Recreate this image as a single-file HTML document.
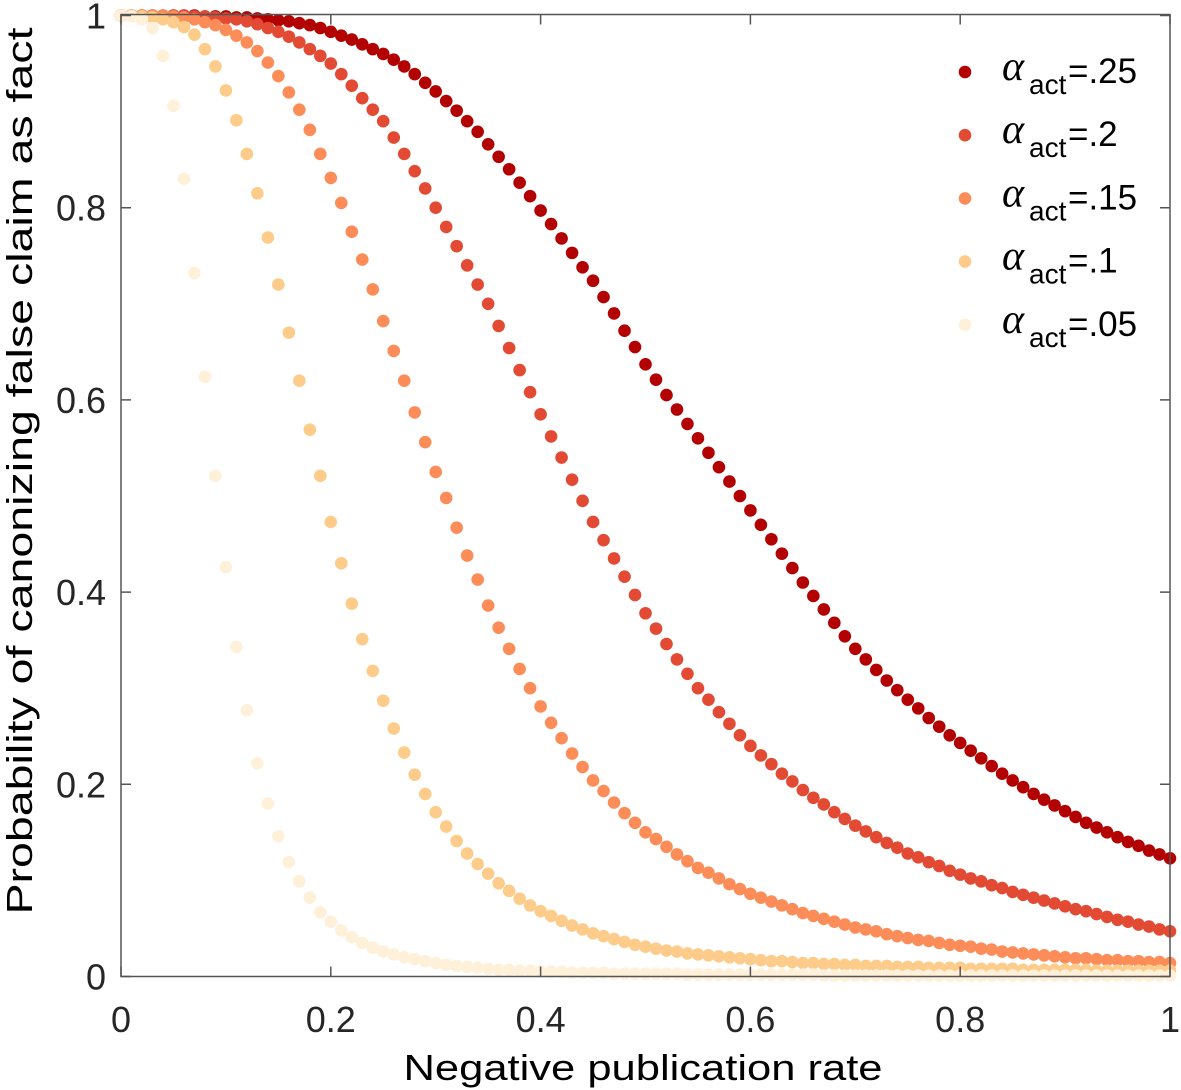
<!DOCTYPE html>
<html><head><meta charset="utf-8"><style>
html,body{margin:0;padding:0;background:#fff;}
svg{display:block;font-family:"Liberation Sans",Arial,sans-serif;}
</style></head><body>
<svg id="chart" width="1181" height="1090" viewBox="0 0 1181 1090" xmlns="http://www.w3.org/2000/svg">
<rect x="0" y="0" width="1181" height="1090" fill="#fff"/>
<g id="marks"></g>
<g id="axes"></g>
<text x="643" y="1080" text-anchor="middle" font-size="36" textLength="479" lengthAdjust="spacingAndGlyphs" fill="#000">Negative publication rate</text>
<text transform="translate(32,471) rotate(-90)" text-anchor="middle" font-size="36" textLength="887" lengthAdjust="spacingAndGlyphs" fill="#000">Probability of canonizing false claim as fact</text>
<g id="legend"></g>
</svg>
<script>
const xTicks = [0, 0.2, 0.4, 0.6, 0.8, 1];
const xTickLabels = ["0", "0.2", "0.4", "0.6", "0.8", "1"];
const yTicks = [0, 0.2, 0.4, 0.6, 0.8, 1];
const yTickLabels = ["0", "0.2", "0.4", "0.6", "0.8", "1"];
const seriesNames = ["=.25", "=.2", "=.15", "=.1", "=.05"];
const seriesColors = ["#b30000", "#e34a33", "#fc8d59", "#fdcc8a", "#fef0d9"];
const xStep = 0.01;
const s25 = [1,1,1,1,1,1,1,1,.999,.999,.999,
.998,.998,.997,.996,.995,.994,.992,.990,.987,.983,
.979,.975,.970,.965,.960,.954,.947,.939,.930,.921,
.911,.901,.890,.879,.866,.853,.840,.826,.812,.797,
.783,.768,.753,.738,.724,.707,.690,.672,.655,.637,
.621,.605,.590,.575,.560,.545,.530,.515,.500,.485,
.470,.455,.440,.425,.410,.396,.382,.368,.354,.341,
.330,.319,.308,.298,.288,.279,.269,.260,.251,.243,
.235,.227,.219,.211,.204,.197,.190,.184,.178,.172,
.166,.160,.155,.150,.145,.140,.136,.131,.127,.123];
const s20 = [1,1,1,1,1,1,1,.999,.999,.998,.997,
.996,.994,.991,.987,.983,.978,.972,.965,.958,.950,
.939,.927,.914,.902,.890,.873,.856,.838,.820,.800,
.780,.760,.740,.720,.700,.677,.654,.631,.608,.585,
.562,.540,.517,.495,.473,.454,.435,.416,.397,.378,
.362,.346,.330,.315,.300,.288,.275,.263,.251,.240,
.230,.221,.211,.203,.194,.186,.179,.171,.164,.157,
.151,.145,.139,.134,.128,.124,.119,.115,.110,.106,
.102,.099,.095,.092,.088,.085,.082,.079,.076,.073,
.070,.068,.065,.062,.059,.057,.054,.052,.049,.047];
const s15 = [1,1,1,1,1,.999,.998,.996,.993,.990,.985,
.979,.972,.963,.951,.937,.920,.902,.881,.856,.831,
.805,.775,.746,.715,.682,.651,.620,.587,.556,.525,
.498,.467,.438,.413,.386,.363,.341,.320,.300,.281,
.264,.248,.232,.218,.204,.193,.181,.170,.160,.150,
.143,.135,.127,.120,.113,.108,.102,.096,.091,.086,
.082,.078,.074,.070,.066,.063,.060,.057,.054,.051,
.049,.047,.044,.042,.040,.038,.037,.035,.033,.032,
.031,.029,.028,.026,.025,.024,.023,.022,.021,.020,
.019,.019,.018,.017,.017,.016,.016,.015,.015,.014];
const s10 = [1,1,.999,.998,.996,.993,.988,.980,.965,.947,.922,
.891,.856,.815,.769,.720,.670,.620,.569,.521,.473,
.430,.388,.351,.318,.287,.258,.233,.210,.190,.171,
.156,.141,.128,.117,.107,.097,.089,.081,.074,.068,
.063,.058,.053,.049,.045,.042,.039,.036,.033,.031,
.029,.027,.026,.024,.023,.022,.021,.020,.019,.018,
.017,.016,.016,.015,.014,.014,.013,.013,.012,.012,
.011,.011,.011,.010,.010,.010,.009,.009,.009,.009,
.008,.008,.008,.008,.008,.007,.007,.007,.007,.007,
.007,.007,.006,.006,.006,.006,.006,.006,.006,.006];
const s05 = [1,.999,.996,.987,.958,.906,.830,.732,.624,.521,.426,
.343,.277,.222,.180,.146,.119,.099,.082,.067,.057,
.048,.041,.035,.030,.026,.023,.020,.018,.016,.014,
.012,.011,.010,.009,.008,.007,.007,.006,.006,.005,
.005,.005,.004,.004,.004,.004,.003,.003,.003,.003,
.003,.003,.003,.002,.002,.002,.002,.002,.002,.002,
.002,.002,.002,.002,.002,.002,.001,.001,.001,.001,
.001,.001,.001,.001,.001,.001,.001,.001,.001,.001,
.001,.001,.001,.001,.001,.001,.001,.001,.001,.001,
.001,.001,.001,.001,.001,.001,.001,.001,.001,.001];
const seriesData = [s25, s20, s15, s10, s05];

const NS = "http://www.w3.org/2000/svg";
const L = 121, R = 1170, T = 15.5, B = 976.5;
function xScale(v){ return L + v * (R - L); }
function yScale(v){ return B - v * (B - T); }
function mk(tag, attrs, parent){
  const e = document.createElementNS(NS, tag);
  for (const k in attrs) e.setAttribute(k, attrs[k]);
  parent.appendChild(e);
  return e;
}
const marks = document.getElementById('marks');
seriesData.forEach((arr, si) => {
  const g = mk('g', {fill: seriesColors[si]}, marks);
  
  
  arr.forEach((v, i) => {
    const c = mk('circle', {cx: xScale(i * xStep), cy: yScale(v), r: 6.3}, g);
    
    
  });
});
const axes = document.getElementById('axes');
const frame = mk('rect', {x: L, y: T - 1, width: R - L, height: B - T + 1, fill: 'none', stroke: '#555', 'stroke-width': 1.5}, axes);


xTicks.forEach((t, i) => {
  const x = xScale(t);
  const tk = mk('path', {d: `M${x},${B}v-10M${x},${T-1}v10`, stroke: '#555', 'stroke-width': 1.5}, axes);
  
  
  const lb = mk('text', {x: x, y: 1032, 'text-anchor': 'middle', 'font-size': 36, fill: '#262626'}, axes);
  lb.textContent = xTickLabels[i];
  
  
});
yTicks.forEach((t, i) => {
  const y = yScale(t);
  const tk = mk('path', {d: `M${L},${y}h10M${R},${y}h-10`, stroke: '#555', 'stroke-width': 1.5}, axes);
  
  
  const lb = mk('text', {x: 106, y: y + 13, 'text-anchor': 'end', 'font-size': 36, fill: '#262626'}, axes);
  lb.textContent = yTickLabels[i];
  
  
});
const legend = document.getElementById('legend');
seriesNames.forEach((n, i) => {
  const y = 72 + i * 63.2;
  const g = mk('g', {}, legend);
  
  
  mk('circle', {cx: 965, cy: y, r: 6.3, fill: seriesColors[i]}, g);
  const a = mk('text', {x: 1002, y: y + 8, 'font-size': 42, 'font-style': 'italic', 'font-family': '"Liberation Serif",serif', fill: '#000'}, g);
  a.textContent = 'α';
  const s = mk('text', {x: 1029, y: y + 22, 'font-size': 28, fill: '#000'}, g);
  s.textContent = 'act';
  const v = mk('text', {x: 1068, y: y + 11, 'font-size': 35, fill: '#000'}, g);
  v.textContent = n;
});
</script>
</body></html>
